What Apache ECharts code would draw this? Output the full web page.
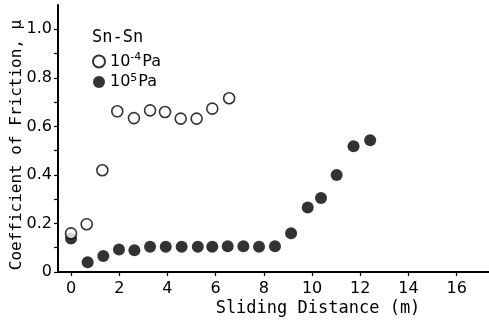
<!DOCTYPE html>
<html>
<head>
<meta charset="utf-8">
<script src="https://cdn.jsdelivr.net/npm/echarts@6/dist/echarts.min.js"></script>
<style>
  html, body { margin: 0; padding: 0; background: #fff; }
  #chart { width: 489px; height: 323px; }
</style>
</head>
<body>
<div id="chart"></div>
<script>
// Sliding distance (m) and friction coefficient for Sn on Sn
const vacuumDistance = [0, 0.65, 1.3, 1.92, 2.61, 3.28, 3.9, 4.55, 5.21, 5.86, 6.56];
const vacuumFriction = [0.159, 0.197, 0.419, 0.662, 0.634, 0.666, 0.659, 0.632, 0.632, 0.673, 0.716];

const airDistance = [0, 0.69, 1.34, 1.99, 2.63, 3.28, 3.93, 4.59, 5.26, 5.86, 6.5, 7.15, 7.8, 8.46, 9.13, 9.82, 10.37, 11.02, 11.72, 12.41];
const airFriction = [0.138, 0.04, 0.066, 0.093, 0.09, 0.104, 0.104, 0.104, 0.104, 0.104, 0.106, 0.106, 0.104, 0.106, 0.16, 0.266, 0.305, 0.4, 0.518, 0.543];

const xTickValues = [0, 2, 4, 6, 8, 10, 12, 14, 16];
const seriesNames = ['vacuum', 'air'];
const legendLabels = { vacuum: '10{sup|-4}Pa', air: '10{sup|5}Pa' };

const FONT = 'DejaVu Sans';
const WIDE = 'DejaVu Sans Mono';
const INK = '#000';
const chart = echarts.init(document.getElementById('chart'), null, { renderer: 'canvas' });

const pairs = (xs, ys) => xs.map((x, i) => [x, ys[i]]);

chart.setOption({
  animation: false,
  backgroundColor: '#fff',
  title: {
    text: 'Sn-Sn',
    left: 92,
    top: 29,
    padding: 0,
    textStyle: { fontFamily: WIDE, fontSize: 17, fontWeight: 'normal', color: INK }
  },
  legend: {
    orient: 'vertical',
    left: 87,
    top: 47,
    itemWidth: 12,
    itemHeight: 12,
    itemGap: 3,
    data: seriesNames,
    formatter: name => legendLabels[name],
    textStyle: {
      fontFamily: FONT, fontSize: 16, color: INK,
      rich: { sup: { fontFamily: FONT, fontSize: 11, verticalAlign: 'top', padding: [0, 1, 8, 0], color: INK } }
    }
  },
  grid: { left: 58, right: 0, top: 5, bottom: 51, containLabel: false, outerBoundsMode: 'none' },
  xAxis: {
    type: 'value',
    min: -0.54,
    max: 17.34,
    name: 'Sliding Distance (m)',
    nameLocation: 'middle',
    nameGap: 28,
    nameMoveOverlap: false,
    nameTextStyle: { fontFamily: WIDE, fontSize: 17, color: INK, padding: [0, 0, 0, 89] },
    axisLine: { onZero: false, lineStyle: { color: INK, width: 2 } },
    axisTick: { show: true, length: 4, lineStyle: { color: INK, width: 1.2 }, customValues: xTickValues },
    axisLabel: { fontFamily: FONT, fontSize: 16, color: INK, margin: 9, customValues: xTickValues },
    splitLine: { show: false }
  },
  yAxis: {
    type: 'value',
    min: 0,
    max: 1.1,
    interval: 0.1,
    name: 'Coefficient of Friction, μ',
    nameLocation: 'middle',
    nameGap: 33,
    nameMoveOverlap: false,
    nameTextStyle: { fontFamily: WIDE, fontSize: 16, color: INK, padding: [0, 13, 0, 0] },
    axisLine: { onZero: false, lineStyle: { color: INK, width: 2 } },
    axisTick: { show: true, length: 4, lineStyle: { color: INK, width: 1.2 } },
    axisLabel: {
      fontFamily: FONT, fontSize: 16, color: INK, margin: 6,
      showMaxLabel: false,
      formatter: v => {
        const r = Math.round(v * 10);
        if (r % 2 !== 0 || r > 10) return '';
        return r === 0 ? '0' : (r / 10).toFixed(1);
      }
    },
    splitLine: { show: false }
  },
  series: [
    {
      name: 'vacuum',
      type: 'scatter',
      symbol: 'circle',
      symbolSize: 11,
      itemStyle: { color: '#fff', borderColor: INK, borderWidth: 1.6 },
      data: pairs(vacuumDistance, vacuumFriction),
      z: 3
    },
    {
      name: 'air',
      type: 'scatter',
      symbol: 'circle',
      symbolSize: 12,
      itemStyle: { color: INK },
      data: pairs(airDistance, airFriction),
      z: 2
    }
  ]
});
</script>
</body>
</html>
